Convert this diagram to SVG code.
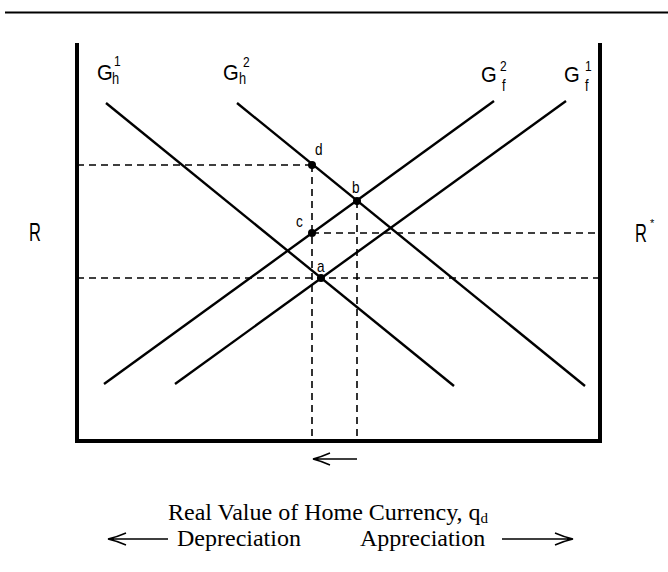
<svg xmlns="http://www.w3.org/2000/svg" width="668" height="572" viewBox="0 0 668 572">
<style>
.sans{font-family:"Liberation Sans",Arial,sans-serif;fill:#000}
.serif{font-family:"Liberation Serif","Times New Roman",serif;fill:#000;font-size:24px}
.curve{stroke:#000;stroke-width:2.4;fill:none;stroke-linecap:butt}
.dash{stroke:#000;stroke-width:1.6;fill:none;stroke-dasharray:7 5}
.frame{stroke:#000;stroke-width:4;fill:none;stroke-linejoin:miter}
.arrow{stroke:#000;stroke-width:1.4;fill:none}
.G{font-size:22px}
.sup{font-size:15px}
.sub{font-size:16px}
.pt{font-size:16px}
</style>
<rect width="668" height="572" fill="#fff"/>
<line x1="5" y1="12.5" x2="668" y2="12.5" stroke="#000" stroke-width="2"/>
<g id="axes">
<path class="frame" d="M77,43 V441 H600 V43"/>
</g>
<g id="connectors">
<line class="dash" x1="77" y1="165" x2="312" y2="165"/>
<line class="dash" x1="312" y1="233" x2="600" y2="233"/>
<line class="dash" x1="77" y1="278" x2="600" y2="278"/>
<line class="dash" x1="312" y1="165" x2="312" y2="441"/>
<line class="dash" x1="357" y1="201" x2="357" y2="441"/>
</g>
<g id="Gh1">
<line class="curve" x1="106" y1="103" x2="454" y2="386"/>
<text class="sans G" transform="translate(97,80) scale(0.92,1)">G</text>
<text class="sans sup" transform="translate(114,66) scale(0.8,1)">1</text>
<text class="sans sub" transform="translate(112,84) scale(0.8,1)">h</text>
</g>
<g id="Gh2">
<line class="curve" x1="237" y1="103" x2="585" y2="386"/>
<text class="sans G" transform="translate(223,80) scale(0.92,1)">G</text>
<text class="sans sup" transform="translate(243,67) scale(0.8,1)">2</text>
<text class="sans sub" transform="translate(239,84) scale(0.8,1)">h</text>
</g>
<g id="Gf2">
<line class="curve" x1="104" y1="384" x2="494" y2="101"/>
<text class="sans G" transform="translate(481,82) scale(0.92,1)">G</text>
<text class="sans sup" transform="translate(500,71) scale(0.8,1)">2</text>
<text class="sans sub" transform="translate(502,91) scale(0.8,1)">f</text>
</g>
<g id="Gf1">
<line class="curve" x1="175" y1="384" x2="566" y2="101"/>
<text class="sans G" transform="translate(564,82) scale(0.92,1)">G</text>
<text class="sans sup" transform="translate(585,71) scale(0.8,1)">1</text>
<text class="sans sub" transform="translate(585,91) scale(0.8,1)">f</text>
</g>
<g id="point-d">
<circle cx="312" cy="165" r="4"/>
<text class="sans pt" transform="translate(315,155) scale(0.85,1)">d</text>
</g>
<g id="point-b">
<circle cx="357" cy="201" r="4"/>
<text class="sans pt" transform="translate(352,193) scale(0.85,1)">b</text>
</g>
<g id="point-c">
<circle cx="312" cy="233" r="4"/>
<text class="sans pt" transform="translate(296,227) scale(0.85,1)">c</text>
</g>
<g id="point-a">
<circle cx="321" cy="278" r="4"/>
<text class="sans pt" transform="translate(317,272) scale(0.85,1)">a</text>
</g>
<g id="label-R">
<text class="sans" font-size="25" transform="translate(29,241) scale(0.66,1)">R</text>
</g>
<g id="label-Rstar">
<text class="sans" font-size="25" transform="translate(635,242) scale(0.66,1)">R</text>
<text class="sans" font-size="11" x="650" y="227">*</text>
</g>
<g id="shift-arrow">
<path class="arrow" d="M357,459 H314 M330,453 Q321,457 313,459 Q321,461 330,465"/>
</g>
<g id="xlabel">
<text class="serif" x="168" y="520">Real Value of Home Currency, q<tspan font-size="15" dy="3">d</tspan></text>
</g>
<g id="direction">
<path class="arrow" d="M168,539 H109 M126,533 Q117,537 108,539 Q117,541 126,545"/>
<text class="serif" x="177" y="546">Depreciation</text>
<text class="serif" x="360" y="546">Appreciation</text>
<path class="arrow" d="M502,539 H572 M555,533 Q564,537 573,539 Q564,541 555,545"/>
</g>
</svg>
